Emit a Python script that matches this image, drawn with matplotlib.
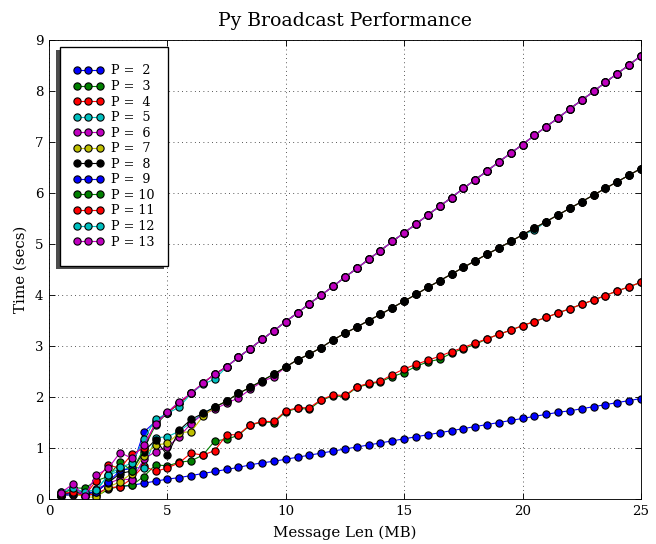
import matplotlib
matplotlib.use('Agg')
import matplotlib.pyplot as plt
from matplotlib.patches import Rectangle

plt.rcParams['font.family'] = 'DejaVu Serif'

# message length in MB (0.5 MB steps)
msg_len = [0.5, 1.0, 1.5, 2.0, 2.5, 3.0, 3.5, 4.0, 4.5, 5.0,
           5.5, 6.0, 6.5, 7.0, 7.5, 8.0, 8.5, 9.0, 9.5, 10.0,
           10.5, 11.0, 11.5, 12.0, 12.5, 13.0, 13.5, 14.0, 14.5, 15.0,
           15.5, 16.0, 16.5, 17.0, 17.5, 18.0, 18.5, 19.0, 19.5, 20.0,
           20.5, 21.0, 21.5, 22.0, 22.5, 23.0, 23.5, 24.0, 24.5, 25.0]

procs = [2, 3, 4, 5, 6, 7, 8, 9, 10, 11, 12, 13]

# times for 0.5 .. 7.5 MB, where the runs still differ
head = {
    2:  [0.05, 0.09, 0.06, 0.10, 0.21, 0.24, 0.27, 0.31, 0.35, 0.39, 0.42, 0.46, 0.50, 0.54, 0.58],
    3:  [0.08, 0.10, 0.16, 0.05, 0.19, 0.25, 0.27, 0.44, 0.67, 0.65, 0.72, 0.75, 0.86, 1.14, 1.17],
    4:  [0.06, 0.12, 0.08, 0.10, 0.22, 0.24, 0.40, 0.65, 0.54, 0.61, 0.71, 0.90, 0.86, 0.95, 1.26],
    5:  [0.08, 0.20, 0.10, 0.16, 0.47, 0.55, 0.63, 0.60, 1.20, 1.22, 1.33, 1.50, 1.68, 1.80, 1.92],
    6:  [0.13, 0.08, 0.12, 0.20, 0.30, 0.40, 0.37, 0.78, 0.93, 1.02, 1.22, 1.48, 1.66, 1.76, 1.88],
    7:  [0.06, 0.10, 0.05, 0.03, 0.23, 0.34, 0.50, 0.85, 1.06, 1.09, 1.30, 1.32, 1.62, 1.80, 1.92],
    8:  [0.10, 0.12, 0.10, 0.14, 0.32, 0.50, 0.55, 0.93, 1.16, 0.86, 1.35, 1.56, 1.68, 1.80, 1.92],
    9:  [0.06, 0.12, 0.10, 0.14, 0.33, 0.56, 0.60, 1.31, 1.52, 1.69, 1.88, 2.07, 2.27, 2.45, 2.59],
    10: [0.08, 0.22, 0.21, 0.36, 0.44, 0.73, 0.55, 0.98, 1.45, 1.69, 1.88, 2.07, 2.27, 2.45, 2.59],
    11: [0.10, 0.14, 0.06, 0.36, 0.67, 0.60, 0.88, 1.00, 1.50, 1.69, 1.88, 2.07, 2.27, 2.45, 2.59],
    12: [0.14, 0.21, 0.14, 0.18, 0.47, 0.62, 0.70, 1.17, 1.56, 1.68, 1.80, 2.07, 2.25, 2.35, 2.59],
    13: [0.12, 0.29, 0.05, 0.47, 0.60, 0.91, 0.80, 1.06, 1.47, 1.70, 1.91, 2.07, 2.27, 2.45, 2.59],
}

# times for 8 .. 25 MB, runs with the same tree depth sit on one line
tail_p2 = [0.62, 0.67, 0.71, 0.74, 0.78, 0.82, 0.86, 0.90, 0.94, 0.98,
           1.02, 1.06, 1.10, 1.14, 1.18, 1.22, 1.26, 1.30, 1.34, 1.38,
           1.42, 1.46, 1.50, 1.54, 1.58, 1.62, 1.66, 1.70, 1.73, 1.77,
           1.81, 1.85, 1.89, 1.93, 1.97]
tail_p3 = [1.25, 1.45, 1.51, 1.50, 1.71, 1.78, 1.76, 1.94, 2.02, 2.01,
           2.19, 2.25, 2.30, 2.40, 2.48, 2.60, 2.69, 2.74, 2.86, 2.95,
           3.03, 3.14, 3.23, 3.31, 3.40, 3.48, 3.56, 3.65, 3.73, 3.82,
           3.90, 3.99, 4.08, 4.16, 4.25]
tail_p4 = [1.26, 1.46, 1.52, 1.52, 1.73, 1.79, 1.79, 1.95, 2.04, 2.03,
           2.20, 2.27, 2.31, 2.44, 2.55, 2.64, 2.72, 2.80, 2.89, 2.97,
           3.06, 3.14, 3.23, 3.31, 3.40, 3.48, 3.56, 3.65, 3.73, 3.82,
           3.90, 3.99, 4.08, 4.16, 4.25]
tail_p8 = [2.07, 2.19, 2.32, 2.45, 2.59, 2.73, 2.84, 2.97, 3.12, 3.25,
           3.37, 3.50, 3.62, 3.75, 3.88, 4.01, 4.15, 4.28, 4.41, 4.54,
           4.67, 4.80, 4.92, 5.05, 5.18, 5.31, 5.44, 5.57, 5.70, 5.83,
           5.96, 6.09, 6.22, 6.35, 6.48]
tail_p6 = [1.98, 2.15, 2.30, 2.40, 2.59, 2.73, 2.84, 2.97, 3.12, 3.25,
           3.37, 3.50, 3.62, 3.75, 3.88, 4.01, 4.15, 4.28, 4.41, 4.54,
           4.67, 4.80, 4.92, 5.05, 5.18, 5.31, 5.44, 5.57, 5.70, 5.83,
           5.96, 6.09, 6.22, 6.35, 6.48]
tail_p5 = [2.07, 2.19, 2.32, 2.45, 2.59, 2.73, 2.84, 2.97, 3.12, 3.25,
           3.37, 3.50, 3.62, 3.75, 3.88, 4.01, 4.15, 4.28, 4.41, 4.54,
           4.67, 4.80, 4.92, 5.05, 5.18, 5.27, 5.44, 5.57, 5.70, 5.83,
           5.96, 6.09, 6.22, 6.35, 6.48]
tail_p13 = [2.78, 2.95, 3.13, 3.30, 3.48, 3.65, 3.83, 4.00, 4.17, 4.35,
            4.52, 4.70, 4.87, 5.05, 5.22, 5.39, 5.57, 5.74, 5.91, 6.09,
            6.26, 6.43, 6.61, 6.78, 6.95, 7.13, 7.30, 7.47, 7.65, 7.82,
            7.99, 8.17, 8.34, 8.51, 8.69]

tails = {2: tail_p2, 3: tail_p3, 4: tail_p4, 5: tail_p5, 6: tail_p6,
         7: tail_p8, 8: tail_p8, 9: tail_p13, 10: tail_p13, 11: tail_p13,
         12: tail_p13, 13: tail_p13}

# old matplotlib colour cycle
colors = ['b', 'g', 'r', 'c', 'm', 'y', 'k']

fig = plt.figure(figsize=(8.2, 6.8), dpi=80)
ax = fig.add_axes([0.0747, 0.0827, 0.9023, 0.8438])

for i, p in enumerate(procs):
    times = head[p] + tails[p]
    ax.plot(msg_len, times, 'o-', color=colors[i % len(colors)],
            markeredgecolor='k', markersize=6.5, linewidth=1,
            label='P = %2d' % p)

ax.set_xlim(0, 25)
ax.set_ylim(0, 9)
ax.grid(True, linestyle=(0, (1, 4.5)), color='k', linewidth=0.7)
ax.tick_params(direction='in', top=True, right=True, labelsize=12, length=5, pad=5)
ax.set_xlabel('Message Len (MB)', fontsize=13.5, labelpad=7)
ax.set_ylabel('Time (secs)', fontsize=13.5, labelpad=6)
ax.set_title('Py Broadcast Performance', fontsize=17, pad=13)

# legend box drawn by hand: old style frame with a shadow down and to the left
box = (0.0186, 0.5076, 0.1824, 0.4771)
ax.add_patch(Rectangle((box[0] - 0.0068, box[1] - 0.0076), box[2], box[3],
                       transform=ax.transAxes, facecolor='0.3', edgecolor='none',
                       zorder=10, clip_on=False))
ax.add_patch(Rectangle((box[0], box[1]), box[2], box[3], transform=ax.transAxes,
                       facecolor='w', edgecolor='k', linewidth=1.2,
                       zorder=10.5, clip_on=False))
leg = ax.legend(loc='center', bbox_to_anchor=(box[0] + box[2] / 2, box[1] + box[3] / 2),
                numpoints=3, fontsize=11.5, labelspacing=0.2, handlelength=2.4,
                handletextpad=0.6, frameon=False, borderpad=0)
leg.set_zorder(11)

fig.savefig('out.png', dpi=80)
